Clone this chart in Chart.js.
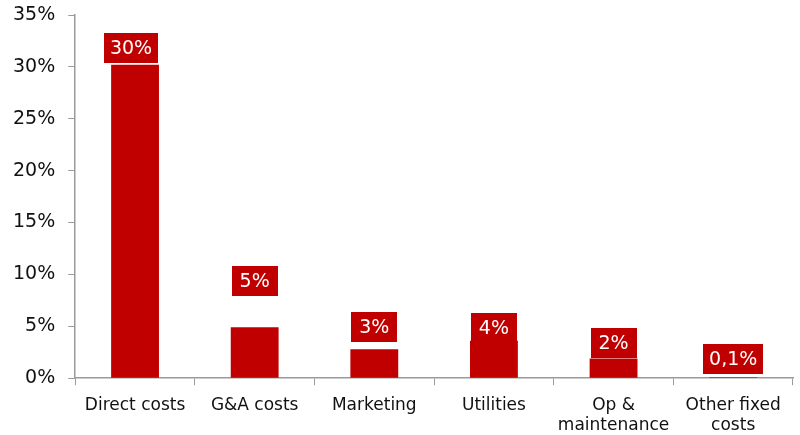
<!DOCTYPE html>
<html>
<head>
<meta charset="utf-8">
<script src="https://cdn.jsdelivr.net/npm/chart.js@4.4.1/dist/chart.umd.min.js"></script>
<style>
    html, body { margin: 0; padding: 0; background: #fff; }
    #wrap { width: 800px; height: 435px; }
</style>
</head>
<body>
<div id="wrap"><canvas id="costChart"></canvas></div>
<script>
// Chi phí theo hạng mục (% doanh thu)
const categories = ['Direct costs', 'G&A costs', 'Marketing', 'Utilities', ['Op &', 'maintenance'], ['Other fixed', 'costs']];
const costShare = [30.2, 4.9, 2.8, 3.6, 1.9, 0.1];
const yTicks = [0, 5, 10, 15, 20, 25, 30, 35];

const RED = '#C00000';
const AXIS = '#9A9A9A';
const FONT = 'DejaVu Sans';

function pct(v) {
    const s = v < 1 ? v.toFixed(1) : Math.round(v).toString();
    return s.replace('.', ',') + '%';
}

// nhãn giá trị trong hộp đỏ phía trên cột
const labelLift = [2, 31, 7, -2, 0, 3];
const labelShift = [-4, 0, 0, 0, 0, 0];
const boxLabels = {
    id: 'boxLabels',
    afterDatasetsDraw(chart) {
        const ctx = chart.ctx;
        const meta = chart.getDatasetMeta(0);
        ctx.save();
        ctx.font = '19px "' + FONT + '"';
        ctx.textAlign = 'center';
        ctx.textBaseline = 'middle';
        meta.data.forEach(function (bar, i) {
            const text = pct(costShare[i]);
            const w = Math.max(46, ctx.measureText(text).width + 12);
            const h = 30;
            const cx = bar.x + labelShift[i];
            const bottom = bar.y - labelLift[i];
            ctx.fillStyle = RED;
            ctx.fillRect(Math.round(cx - w / 2), Math.round(bottom - h), Math.round(w), h);
            ctx.fillStyle = '#fff';
            ctx.fillText(text, cx, bottom - h / 2 + 1);
        });
        ctx.restore();
    }
};

new Chart(document.getElementById('costChart').getContext('2d'), {
    type: 'bar',
    data: {
        labels: categories,
        datasets: [{
            data: costShare,
            backgroundColor: RED,
            borderWidth: 0,
            barPercentage: 0.4,
            categoryPercentage: 1
        }]
    },
    options: {
        responsive: true,
        maintainAspectRatio: false,
        animation: false,
        layout: { padding: { left: 0, right: 7, top: 0, bottom: -11 } },
        plugins: {
            legend: { display: false },
            tooltip: { enabled: false }
        },
        scales: {
            x: {
                offset: true,
                grid: {
                    offset: true,
                    drawOnChartArea: false,
                    drawTicks: true,
                    tickLength: 7,
                    color: AXIS
                },
                border: { color: AXIS, width: 1.5 },
                ticks: {
                    color: '#111',
                    font: { family: FONT, size: 17, lineHeight: 1.2 },
                    padding: 10,
                    maxRotation: 0,
                    autoSkip: false
                }
            },
            y: {
                min: 0,
                max: 35,
                afterBuildTicks: function (axis) {
                    axis.ticks = yTicks.map(v => ({ value: v }));
                },
                afterFit: function (axis) {
                    axis.paddingTop = 15;
                },
                grid: {
                    drawOnChartArea: false,
                    drawTicks: true,
                    tickLength: 7,
                    color: AXIS
                },
                border: { color: AXIS, width: 1.5 },
                ticks: {
                    color: '#111',
                    font: { family: FONT, size: 19 },
                    padding: 13,
                    callback: function (value) { return value + '%'; }
                }
            }
        }
    },
    plugins: [boxLabels]
});
</script>
</body>
</html>
